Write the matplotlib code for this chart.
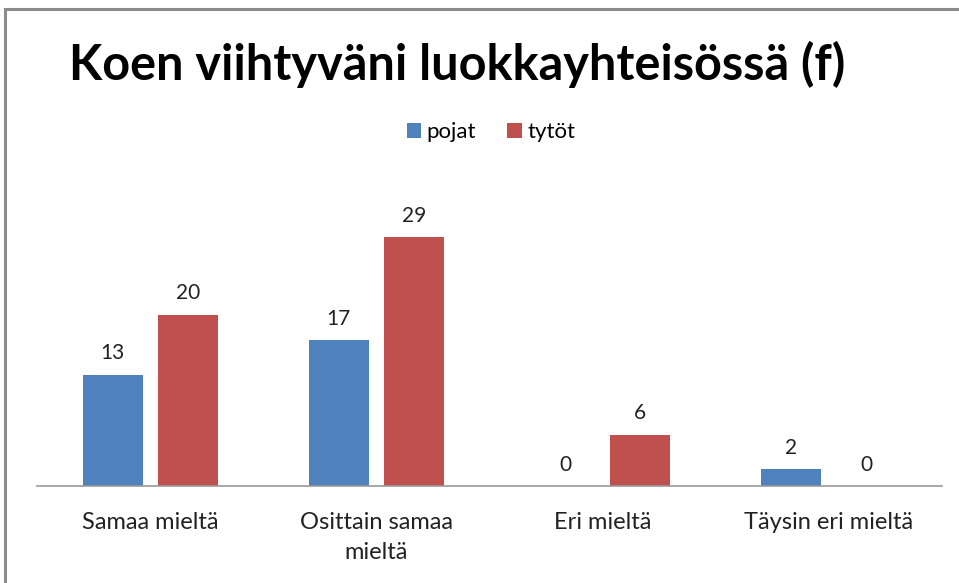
import matplotlib.pyplot as plt
import numpy as np
from matplotlib.patches import Rectangle

# Data
categories = ['Samaa mieltä', 'Osittain samaa\nmieltä', 'Eri mieltä', 'Täysin eri mieltä']
pojat = [13, 17, 0, 2]
tytot = [20, 29, 6, 0]
series_names = ['pojat', 'tytöt']

BLUE = '#4F81BD'
RED = '#C0504D'
FONT = 'Lato'

W, H = 959, 583
fig = plt.figure(figsize=(W / 100, H / 100), dpi=100)

# chart frame (cut off at right and bottom like the screenshot)
fig.patches.append(Rectangle((5 / W, -0.1), 1.1, (H - 9) / H + 0.1,
                             transform=fig.transFigure, fill=False,
                             edgecolor='#8c8c8c', linewidth=2.2))

ax = fig.add_axes([37 / W, (H - 486) / H, (942 - 37) / W, 300 / H])
x = np.arange(len(categories))
bw = 0.265
off = 0.166
b1 = ax.bar(x - off, pojat, bw, color=BLUE, label=series_names[0])
b2 = ax.bar(x + off, tytot, bw, color=RED, label=series_names[1])

for bars in (b1, b2):
    for bar in bars:
        h = bar.get_height()
        ax.annotate(f'{int(h)}', (bar.get_x() + bar.get_width() / 2, h),
                    xytext=(0, 8), textcoords='offset points',
                    ha='center', va='bottom', fontsize=15, family=FONT,
                    color='#222222')

ax.set_xlim(-0.5, 3.5)
ax.set_ylim(0, 35)
ax.set_yticks([])
ax.set_xticks(x)
ax.set_xticklabels(categories, fontsize=17, family=FONT, color='#222222',
                   linespacing=1.5)
ax.tick_params(axis='x', length=0, pad=19)
for s in ['top', 'right', 'left']:
    ax.spines[s].set_visible(False)
ax.spines['bottom'].set_color('#999999')
ax.spines['bottom'].set_linewidth(1.2)

fig.text(457 / W, 1 - 64 / H, 'Koen viihtyväni luokkayhteisössä (f)', ha='center',
         va='center', fontsize=35, fontweight='bold', family=FONT)

fig.legend(loc='center', bbox_to_anchor=(0.512, 1 - 132 / H), ncol=2,
           frameon=False, prop={'family': FONT, 'size': 16},
           handlelength=0.65, handleheight=0.65, handletextpad=0.25,
           columnspacing=1.4)

fig.savefig('out.png', dpi=100)
